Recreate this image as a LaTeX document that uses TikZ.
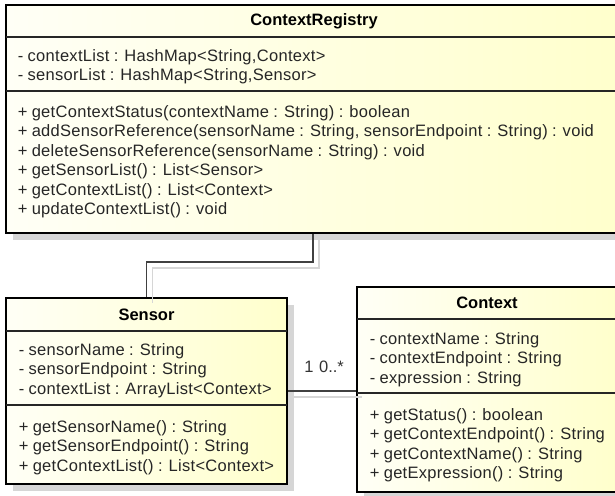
\documentclass[tikz,border=0pt]{standalone}
\usepackage{fontspec}
\setmainfont{Liberation Sans}
\newfontfamily\memberfont{Liberation Sans}[LetterSpace = 1.8, WordSpace = 0.9]
\usetikzlibrary{shadows}
\definecolor{umlpale}{HTML}{FFFFF6}
\definecolor{umlyellow}{HTML}{FFFFCC}
\definecolor{umlshadow}{HTML}{D6D6D6}

\begin{document}
\begin{tikzpicture}[x = 1pt, y = -1pt, line width = 1.5pt,
                    font = \fontsize{16.5}{19.5}\selectfont,
                    classbox/.style = {rectangle, draw = black, line width = 2pt, left color = umlpale, right color = umlyellow,
                                       drop shadow = {shadow xshift = 7pt, shadow yshift = -7pt, fill = umlshadow, opacity = 1}},
                    title/.style = {anchor = base, inner sep = 0pt, font = \fontsize{16.5}{19.5}\selectfont\bfseries},
                    member/.style = {anchor = base west, inner sep = 0pt, text = black!85, font = \fontsize{16.5}{19.5}\memberfont},
                    divider/.style = {line width = 1.5pt, draw = black!85},
                    link/.style = {draw = black!75, line width = 1.4pt},
                    linkshadow/.style = {draw = umlshadow, line width = 1.4pt, transform canvas = {shift = {(6,6)}}}]
  \useasboundingbox (0,0) rectangle (615,495);
  \fill [white] (0,0) rectangle (615,495);
  \clip (0,0) rectangle (615,495);

  % class frames
  \node [classbox, minimum width = 616pt, minimum height = 228pt] (registry) at (314,119) {};
  \node [classbox, minimum width = 281pt, minimum height = 186pt] (sensor) at (146.5,391) {};
  \node [classbox, minimum width = 260pt, minimum height = 205pt] (context) at (487,389.5) {};

  \draw [divider] (6,37) -- (622,37);
  \draw [divider] (6,91) -- (622,91);
  \draw [divider] (6,331) -- (287,331);
  \draw [divider] (6,405) -- (287,405);
  \draw [divider] (357,319) -- (617,319);
  \draw [divider] (357,393) -- (617,393);

  % ContextRegistry
  \node [title] (r-name) at (314,26) {ContextRegistry};
  \node [member] (r-a1) at (17,61) {- contextList : HashMap<String,Context>};
  \node [member] (r-a2) at (17,80.5) {- sensorList : HashMap<String,Sensor>};
  \node [member] (r-m1) at (17,117) {+ getContextStatus(contextName : String) : boolean};
  \node [member] (r-m2) at (17,136.5) {+ addSensorReference(sensorName : String, sensorEndpoint : String) : void};
  \node [member] (r-m3) at (17,156) {+ deleteSensorReference(sensorName : String) : void};
  \node [member] (r-m4) at (17,175.5) {+ getSensorList() : List<Sensor>};
  \node [member] (r-m5) at (17,195) {+ getContextList() : List<Context>};
  \node [member] (r-m6) at (17,214.5) {+ updateContextList() : void};

  % Sensor
  \node [title] (s-name) at (146.5,320) {Sensor};
  \node [member] (s-a1) at (18,355) {- sensorName : String};
  \node [member] (s-a2) at (18,374.5) {- sensorEndpoint : String};
  \node [member] (s-a3) at (18,394) {- contextList : ArrayList<Context>};
  \node [member] (s-m1) at (18,432) {+ getSensorName() : String};
  \node [member] (s-m2) at (18,451.5) {+ getSensorEndpoint() : String};
  \node [member] (s-m3) at (18,471) {+ getContextList() : List<Context>};

  % Context
  \node [title] (c-name) at (487,308) {Context};
  \node [member] (c-a1) at (369,344) {- contextName : String};
  \node [member] (c-a2) at (369,363.5) {- contextEndpoint : String};
  \node [member] (c-a3) at (369,383) {- expression : String};
  \node [member] (c-m1) at (369,420) {+ getStatus() : boolean};
  \node [member] (c-m2) at (369,439.5) {+ getContextEndpoint() : String};
  \node [member] (c-m3) at (369,459) {+ getContextName() : String};
  \node [member] (c-m4) at (369,478.5) {+ getExpression() : String};

  % connectors
  \coordinate (bend) at (313,262);
  \draw [link] (registry.south -| bend) -- (bend) -| (sensor.north);
  \draw [link] (sensor.east) -- (sensor.east -| context.west);
  \draw [linkshadow] (registry.south -| bend) -- (bend) -| (sensor.north);
  \draw [linkshadow] (sensor.east) -- (sensor.east -| context.west);
  \node [anchor = base, inner sep = 0pt, text = black!80] (one) at (309,372) {1};
  \node [anchor = base, inner sep = 0pt, text = black!80] (many) at (331.5,372) {0..*};
\end{tikzpicture}
\end{document}
